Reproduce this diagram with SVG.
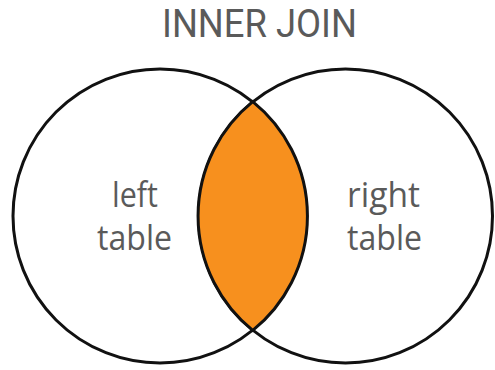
<svg xmlns="http://www.w3.org/2000/svg" width="495" height="370" viewBox="0 0 495 370">
<style>
.c{fill:#fff;stroke:#111;stroke-width:3}
.t{font-family:"Open Sans","DejaVu Sans",sans-serif;fill:#5a5a5a;text-anchor:middle}
.h{font-family:Roboto,"DejaVu Sans",sans-serif;font-size:39px}
.l{font-size:34px}
</style>
<rect width="495" height="370" fill="#fff"/>
<text class="t h" x="259.5" y="36.5" textLength="195" lengthAdjust="spacingAndGlyphs">INNER JOIN</text>
<g id="left-table">
<circle class="c" cx="160" cy="216" r="147"/>
</g>
<g id="right-table">
<circle class="c" cx="345.5" cy="216" r="147"/>
</g>
<g id="intersection">
<path d="M252.75,101.6 A147,147 0 0 0 252.75,330.4 A147,147 0 0 0 252.75,101.6 Z" fill="#F7901E" stroke="#111" stroke-width="3"/>
</g>
<g id="labels">
<text class="t l" x="135" y="207" textLength="46" lengthAdjust="spacingAndGlyphs">left</text>
<text class="t l" x="134.5" y="250" textLength="75" lengthAdjust="spacingAndGlyphs">table</text>
<text class="t l" x="383.5" y="207" textLength="73" lengthAdjust="spacingAndGlyphs">right</text>
<text class="t l" x="384.5" y="250" textLength="75" lengthAdjust="spacingAndGlyphs">table</text>
</g>
<g id="connectors"/>
</svg>
